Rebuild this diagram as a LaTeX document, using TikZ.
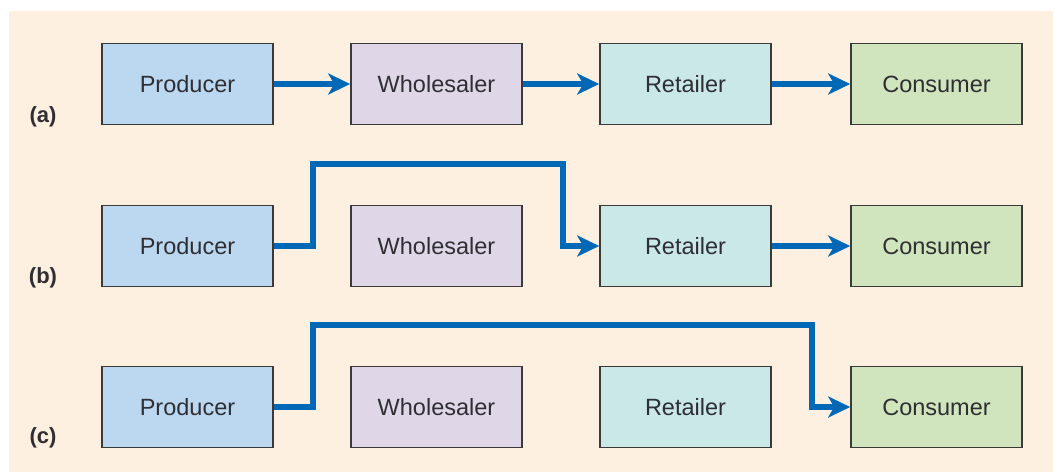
\documentclass[tikz,border=0pt]{standalone}
\usepackage{fontspec}
\setmainfont{Liberation Sans}
\usetikzlibrary{arrows.meta}
\definecolor{bgbeige}{HTML}{FDF0E1}
\definecolor{prodfill}{HTML}{BCD8F1}
\definecolor{wholefill}{HTML}{DFD6E8}
\definecolor{retfill}{HTML}{C9E8E6}
\definecolor{consfill}{HTML}{D0E5BE}
\definecolor{flowblue}{HTML}{0068B4}
\definecolor{edgegray}{HTML}{3A3A3A}
\definecolor{textgray}{HTML}{2E2E33}
\tikzset{
  stage/.style={draw=edgegray, line width=1.6pt, minimum width=171pt, minimum height=81pt,
    inner sep=0pt, text=textgray, font=\fontsize{23.5}{26}\selectfont},
  flow/.style={draw=flowblue, line width=5.5pt, line join=miter,
    -{Stealth[length=22pt,width=21pt,inset=6pt]}},
  rowlabel/.style={text=textgray, font=\fontsize{22}{24}\selectfont\bfseries}
}
\begin{document}
\begin{tikzpicture}[x=1pt,y=-1pt]
  \useasboundingbox (0,0) rectangle (1055,474);
  \fill[bgbeige] (9,11) rectangle (1053,472);

  % row (a): producer -> wholesaler -> retailer -> consumer
  \node[stage, fill=prodfill]  (P1) at (187.5,84) {Producer};
  \node[stage, fill=wholefill] (W1) at (436.5,84) {Wholesaler};
  \node[stage, fill=retfill]   (R1) at (685.5,84) {Retailer};
  \node[stage, fill=consfill]  (C1) at (936.5,84) {Consumer};
  \node[rowlabel] (la) at (43,117) {(a)};

  % row (b): producer -> retailer -> consumer
  \node[stage, fill=prodfill]  (P2) at (187.5,246) {Producer};
  \node[stage, fill=wholefill] (W2) at (436.5,246) {Wholesaler};
  \node[stage, fill=retfill]   (R2) at (685.5,246) {Retailer};
  \node[stage, fill=consfill]  (C2) at (936.5,246) {Consumer};
  \node[rowlabel] (lb) at (43,278) {(b)};

  % row (c): producer -> consumer
  \node[stage, fill=prodfill]  (P3) at (187.5,407) {Producer};
  \node[stage, fill=wholefill] (W3) at (436.5,407) {Wholesaler};
  \node[stage, fill=retfill]   (R3) at (685.5,407) {Retailer};
  \node[stage, fill=consfill]  (C3) at (936.5,407) {Consumer};
  \node[rowlabel] (lc) at (43,438) {(c)};

  % routing points of the bypass channels
  \coordinate (b1) at (313,164);
  \coordinate (b2) at (563,164);
  \coordinate (c1) at (313,325);
  \coordinate (c2) at (812,325);

  \draw[flow] (P1.east) -- (W1.west);
  \draw[flow] (W1.east) -- (R1.west);
  \draw[flow] (R1.east) -- (C1.west);

  \draw[flow] (P2.east) -| (b1) -- (b2) |- (R2.west);
  \draw[flow] (R2.east) -- (C2.west);

  \draw[flow] (P3.east) -| (c1) -- (c2) |- (C3.west);
\end{tikzpicture}
\end{document}
